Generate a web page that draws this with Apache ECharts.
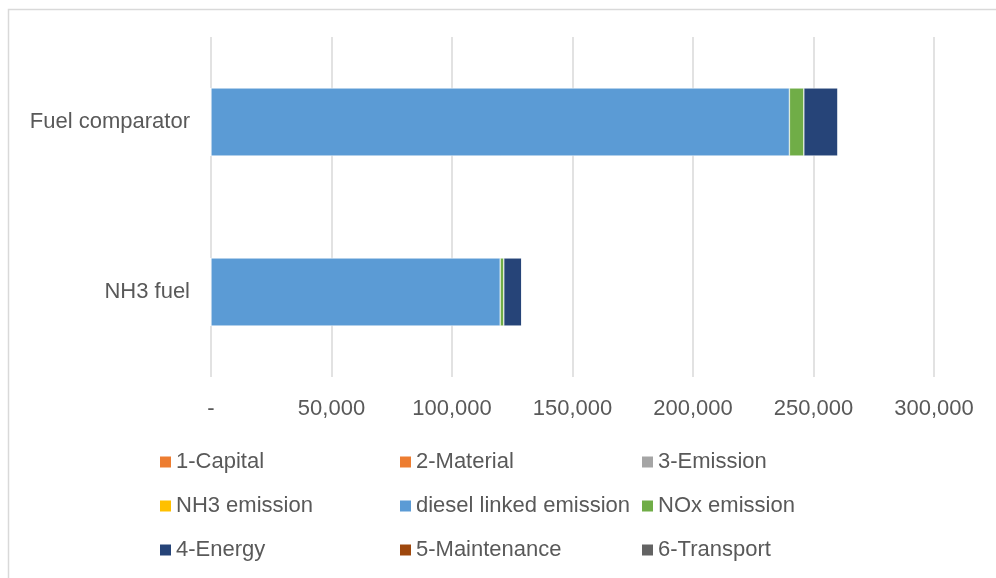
<!DOCTYPE html>
<html>
<head>
<meta charset="utf-8">
<style>
  html, body { margin: 0; padding: 0; background: #fff; }
  #chart { width: 996px; height: 578px; }
</style>
<script src="https://cdn.jsdelivr.net/npm/echarts@6/dist/echarts.min.js"></script>
</head>
<body>
<div id="chart"></div>
<script>
// Categories (top to bottom) and tick values
const categories = ['Fuel comparator', 'NH3 fuel'];
const xTicks = [0, 50000, 100000, 150000, 200000, 250000, 300000];

// Stacked contributions per category
const capital       = [0, 0];
const material      = [0, 0];
const emission3     = [0, 0];
const nh3Emission   = [0, 0];
const dieselLinked  = [240000, 120000];
const noxEmission   = [6000, 1500];
const energy        = [14200, 7500];
const maintenance   = [0, 0];
const transport     = [0, 0];

const seriesNames = ['1-Capital', '2-Material', '3-Emission', 'NH3 emission',
  'diesel linked emission', 'NOx emission', '4-Energy', '5-Maintenance', '6-Transport'];
const seriesData = [capital, material, emission3, nh3Emission, dieselLinked,
  noxEmission, energy, maintenance, transport];
const seriesColors = ['#ED7D31', '#ED7D31', '#A5A5A5', '#FFC000', '#5B9BD5',
  '#70AD47', '#264478', '#9E480E', '#636363'];

const FONT = '"Liberation Sans", Arial, sans-serif';
const chart = echarts.init(document.getElementById('chart'));

const legendText = { color: '#595959', fontSize: 22, fontFamily: FONT, lineHeight: 24, padding: [0, 0, 0, -1] };
function legendColumn(left, names) {
  return {
    orient: 'vertical', left: left, top: 450, padding: 0,
    itemWidth: 13, itemHeight: 13, itemGap: 20,
    icon: 'rect', selectedMode: false,
    textStyle: legendText,
    data: names
  };
}

chart.setOption({
  animation: false,
  graphic: [{
    type: 'rect', silent: true,
    shape: { x: 8.5, y: 9.5, width: 1000, height: 600 },
    style: { fill: 'none', stroke: '#d9d9d9', lineWidth: 1.5 }
  }],
  grid: { left: 211, right: 62, top: 37, bottom: 201, containLabel: false },
  legend: [
    legendColumn(158, [seriesNames[0], seriesNames[3], seriesNames[6]]),
    legendColumn(398, [seriesNames[1], seriesNames[4], seriesNames[7]]),
    legendColumn(640, [seriesNames[2], seriesNames[5], seriesNames[8]])
  ],
  xAxis: {
    type: 'value', min: xTicks[0], max: xTicks[xTicks.length - 1], interval: 50000,
    axisLine: { show: false }, axisTick: { show: false },
    splitLine: { lineStyle: { color: '#d9d9d9', width: 1.5 } },
    axisLabel: {
      color: '#595959', fontSize: 22, fontFamily: FONT, margin: 21,
      formatter: v => v === 0 ? '-' : v.toLocaleString('en-US')
    }
  },
  yAxis: {
    type: 'category', inverse: true, data: categories,
    axisLine: { show: false }, axisTick: { show: false },
    axisLabel: { color: '#595959', fontSize: 22, fontFamily: FONT, margin: 21 }
  },
  series: seriesNames.map((name, i) => ({
    name: name, type: 'bar', stack: 'total', barWidth: '40%',
    data: seriesData[i],
    itemStyle: { color: seriesColors[i], borderColor: '#ffffff', borderWidth: 0.5 }
  }))
});
</script>
</body>
</html>
